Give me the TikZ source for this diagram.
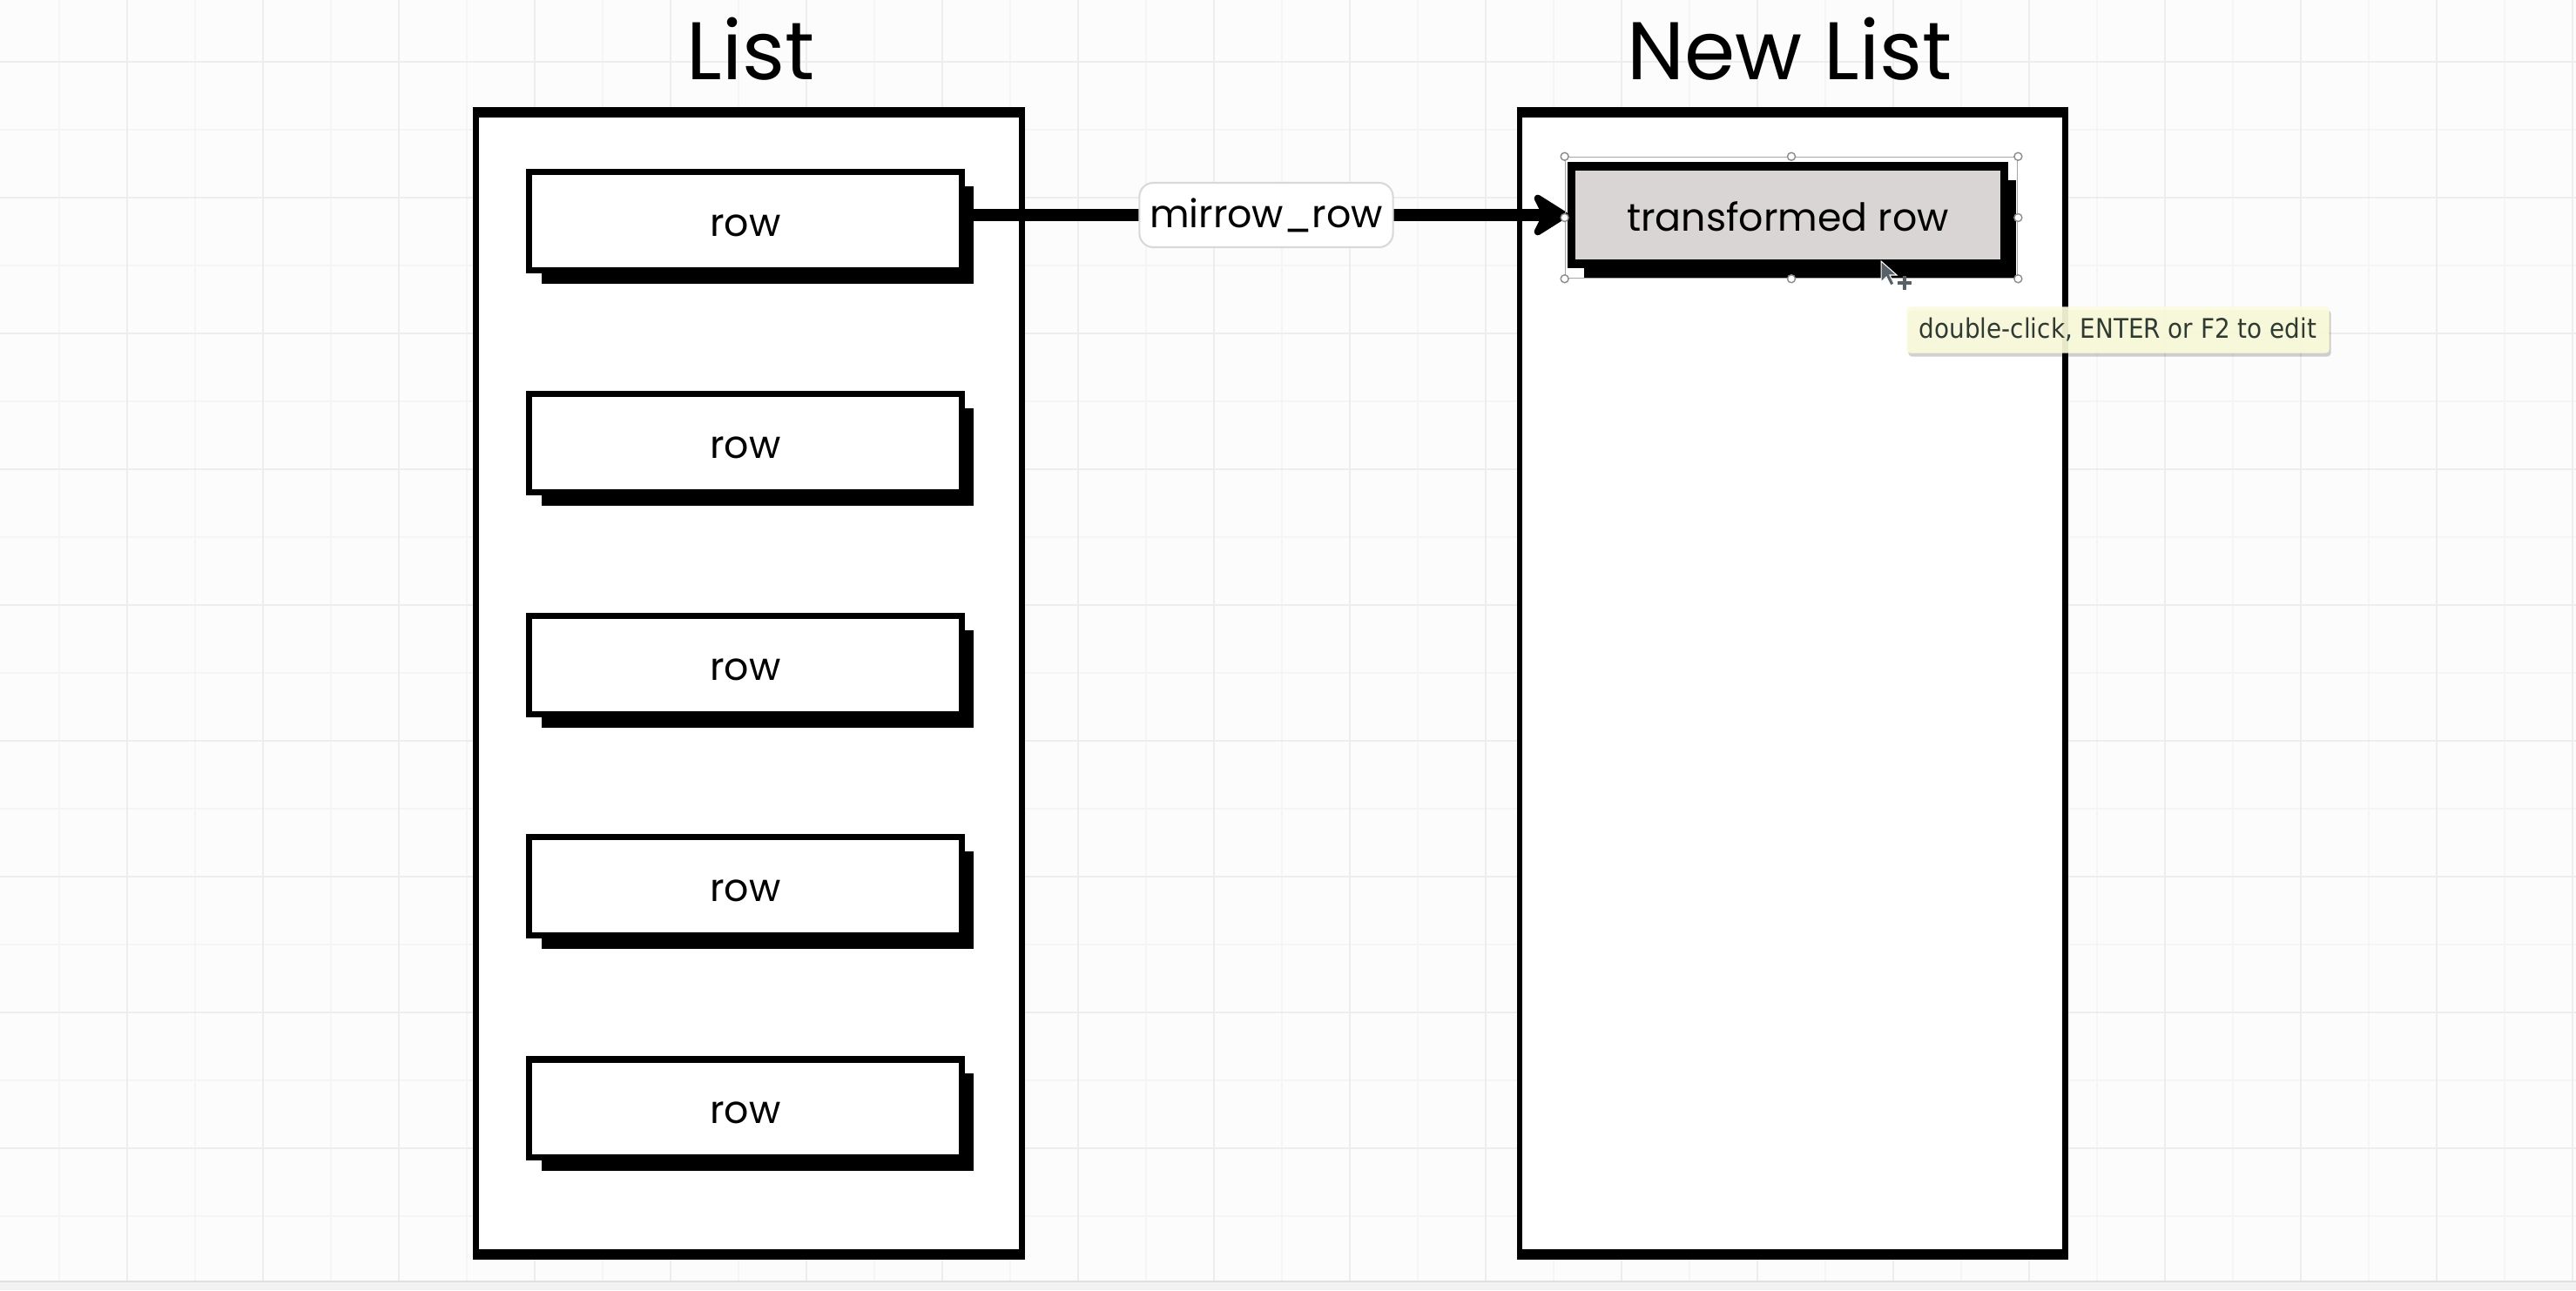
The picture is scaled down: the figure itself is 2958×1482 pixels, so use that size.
\documentclass[tikz,border=0pt]{standalone}
\usepackage{fontspec}
\setmainfont{Poppins}
\newfontfamily\tipfont{DejaVu Sans Condensed}
\usetikzlibrary{arrows.meta,shadows}

\definecolor{canvas}{HTML}{FCFCFC}
\definecolor{gridmajor}{HTML}{EDEDED}
\definecolor{gridminor}{HTML}{F5F5F5}
\definecolor{rowgray}{HTML}{DAD5D5}
\definecolor{tipfill}{HTML}{FBFBDC}
\definecolor{tiptext}{HTML}{2F3A33}
\definecolor{cursorgray}{HTML}{5A6068}

\tikzset{
  listbox/.style={draw=black, line width=1.9pt, fill=white,
    minimum width=6.26cm, minimum height=13.06cm},
  heavyedge/.style={line width=2.8pt},
  listtitle/.style={anchor=base, font=\fontsize{26.7}{30}\selectfont},
  rowbox/.style={draw=black, line width=2pt, fill=white,
    minimum width=4.96cm, minimum height=1.12cm, inner sep=0pt,
    text height=3.6mm, font=\fontsize{12.6}{14}\selectfont,
    drop shadow={shadow xshift=1.4mm, shadow yshift=-1.6mm, fill=black, opacity=1}},
  newrowbox/.style={rowbox, fill=rowgray, line width=2.6pt, text height=3.7mm},
  selframe/.style={draw=black!35, line width=0.4pt,
    minimum width=5.19cm, minimum height=1.39cm},
  handle/.style={fill=white, draw=black!45, line width=0.4pt},
  conn/.style={line width=3.8pt, -{Stealth[length=4.8mm, width=6mm, inset=1.5mm, round]}},
  fnlabel/.style={draw=black!15, line width=0.6pt, fill=white, rounded corners=1.6mm,
    minimum width=2.91cm, minimum height=0.74cm, inner sep=0pt,
    font=\fontsize{12.6}{14}\selectfont},
  tooltip/.style={fill=tipfill, fill opacity=0.92, text opacity=1, text=tiptext,
    rounded corners=0.4mm, minimum width=4.85cm, minimum height=0.53cm, inner sep=0pt,
    font=\tipfont\fontsize{8.8}{10}\selectfont,
    drop shadow={shadow xshift=0.2mm, shadow yshift=-0.4mm, fill=black, opacity=0.18}}
}

\begin{document}
\begin{tikzpicture}[x=0.01cm, y=-0.01cm]
  \useasboundingbox (0,0) rectangle (2958,1482);

  % canvas and grid
  \fill[canvas] (0,0) rectangle (2958,1482);
  \fill[black!5] (0,1472) rectangle (2958,1482);
  \foreach \x in {68,224,...,2958} \draw[gridminor, line width=0.5pt] (\x,0) -- (\x,1472);
  \foreach \y in {149,305,...,1472} \draw[gridminor, line width=0.5pt] (0,\y) -- (2958,\y);
  \foreach \x in {146,302,...,2958} \draw[gridmajor, line width=0.6pt] (\x,0) -- (\x,1472);
  \foreach \y in {71,227,...,1472} \draw[gridmajor, line width=0.6pt] (0,\y) -- (2958,\y);
  \draw[black!12, line width=0.8pt] (0,1472) -- (2958,1472);

  % the two lists
  \node[listbox] (list) at (860,785) {};
  \node[listbox] (newlist) at (2058,785) {};
  \draw[heavyedge] (list.north west) -- (list.north east);
  \draw[heavyedge] (list.south west) -- (list.south east);
  \draw[heavyedge] (newlist.north west) -- (newlist.north east);
  \draw[heavyedge] (newlist.south west) -- (newlist.south east);

  \node[listtitle] (listname) at (862,92) {List};
  \node[listtitle] (newlistname) at (2055,92) {New List};

  \newcommand{\listrow}[2]{
    \node[rowbox] (#1) at (856,#2) {row};
  };

  \listrow{row1}{254}
  \listrow{row2}{509}
  \listrow{row3}{764}
  \listrow{row4}{1018}
  \listrow{row5}{1273}

  \node[newrowbox] (trow) at (2053,247) {transformed row};

  % mirrow_row
  \draw[conn] (row1.east |- trow.west) -- (trow.west)
    node[fnlabel, pos=0.5] (fn) {mirrow\_row};

  % selection handles
  \node[selframe] (sel) at (2057,250) {};
  \foreach \a in {north west, north, north east, east, south east, south, south west, west}
    \filldraw[handle] (sel.\a) circle (0.45mm);

  % cursor
  \coordinate (cur) at (2160,300);
  \filldraw[cursorgray, draw=white, line width=0.3pt, shift={(cur)}]
    (0,0) -- (0,24) -- (6,18) -- (11,28) -- (15,26) -- (10,16) -- (18,16) -- cycle;
  \draw[cursorgray, line width=1pt, shift={(cur)}]
    (27,17) -- (27,33) (19,25) -- (35,25);

  \node[tooltip] (hint) at (2432,379) {double-click, ENTER or F2 to edit};
\end{tikzpicture}
\end{document}
